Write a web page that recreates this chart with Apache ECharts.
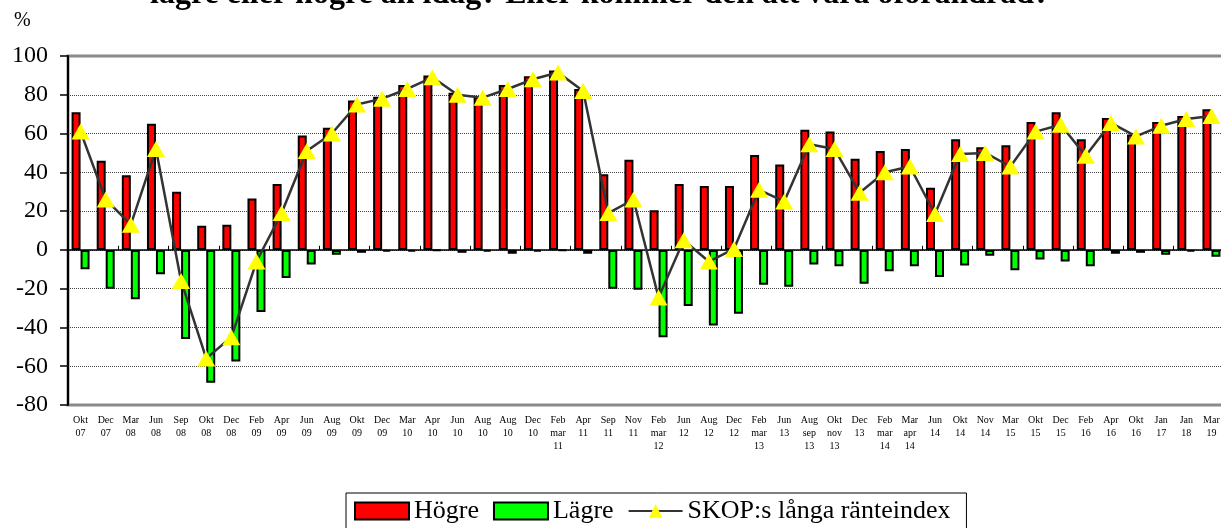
<!DOCTYPE html>
<html>
<head>
<meta charset="utf-8">
<script src="https://cdn.jsdelivr.net/npm/echarts@6/dist/echarts.min.js"></script>
<style>
html, body { margin: 0; padding: 0; background: #fff; }
#chart { width: 1221px; height: 528px; }
</style>
</head>
<body>
<div id="chart"></div>
<script>
// SKOP: förväntningar på långa räntor
var categories = ['Okt\n07', 'Dec\n07', 'Mar\n08', 'Jun\n08', 'Sep\n08', 'Okt\n08', 'Dec\n08', 'Feb\n09', 'Apr\n09', 'Jun\n09',
    'Aug\n09', 'Okt\n09', 'Dec\n09', 'Mar\n10', 'Apr\n10', 'Jun\n10', 'Aug\n10', 'Aug\n10', 'Dec\n10', 'Feb\nmar\n11',
    'Apr\n11', 'Sep\n11', 'Nov\n11', 'Feb\nmar\n12', 'Jun\n12', 'Aug\n12', 'Dec\n12', 'Feb\nmar\n13', 'Jun\n13', 'Aug\nsep\n13',
    'Okt\nnov\n13', 'Dec\n13', 'Feb\nmar\n14', 'Mar\napr\n14', 'Jun\n14', 'Okt\n14', 'Nov\n14', 'Mar\n15', 'Okt\n15', 'Dec\n15',
    'Feb\n16', 'Apr\n16', 'Okt\n16', 'Jan\n17', 'Jan\n18', 'Mar\n19'];

var hogre = [71, 46, 38.5, 65, 30, 12.5, 13, 26.5, 34, 59, 63, 77, 79, 85,
    90, 81, 79, 85, 89.5, 92.5, 83,
    39, 46.5, 20.5, 34, 33, 33, 49, 44, 62,
    61, 47, 51, 52, 32, 57, 53, 54, 66, 71, 57, 68, 59.5, 66, 69, 72.5];

var lagre = [-10, -20, -25.5, -12.5, -46, -68.5, -57.5, -32, -14.5, -7.5, -2.5, -1.5, -1, -1,
    -0.5, -1.5, -1, -2, -1, -0.5, -2,
    -20, -20.5, -45, -29, -39, -33, -18, -19, -7.5,
    -8.5, -17.5, -11, -8.5, -14, -8, -3, -10.5, -5, -6, -8.5, -2, -1.5, -2.5, -1, -3.5];

var skop = [61, 26, 13, 52, -16, -56, -45, -6, 19, 51, 60, 75, 78, 83,
    89, 80, 78.5, 83, 88, 91.5, 82,
    19, 26, -24.5, 5, -6, 0.5, 31, 25, 54.5,
    52, 29.5, 40, 43, 18.5, 49.5, 50, 43, 61, 64.5, 48.5, 65.5, 58.5, 64, 67.5, 69];

var seriesNames = ['Högre', 'Lägre', 'SKOP:s långa ränteindex'];
var yMin = -80, yMax = 100, yStep = 20;
var titleText = 'lägre eller högre än idag? Eller kommer den att vara oförändrad?';

var font = '"Liberation Serif", "Times New Roman", serif';
var myChart = echarts.init(document.getElementById('chart'));

// axel vid noll, ritas två gånger för streck åt båda hållen
function zeroAxis(pos, lineShow, yIdx) {
    return {
        type: 'category',
        data: categories,
        position: pos,
        axisLine: { show: lineShow, onZero: true, onZeroAxisIndex: yIdx, lineStyle: { color: '#000', width: 1.5 } },
        axisTick: { show: true, length: 4, lineStyle: { color: '#000', width: 1 } },
        axisLabel: { show: false },
        splitLine: { show: false }
    };
}

var option = {
    animation: false,
    grid: {
        left: 68,
        top: 56,
        width: 1156,
        height: 349,
        show: true,
        borderColor: '#8a8a8a',
        borderWidth: 3,
        outerBoundsMode: 'none',
        containLabel: false
    },
    graphic: [
        {
            type: 'text', x: 600, y: -21, z: 10,
            style: { text: titleText, font: 'bold 32px ' + font, fill: '#000', textAlign: 'center', textVerticalAlign: 'top' }
        },
        {
            type: 'text', x: 14, y: 11, z: 10,
            style: { text: '%', font: '20px ' + font, fill: '#000' }
        }
    ],
    legend: {
        left: 346,
        top: 493,
        data: [
            { name: seriesNames[0], icon: 'rect' },
            { name: seriesNames[1], icon: 'rect' },
            { name: seriesNames[2] }
        ],
        itemWidth: 54,
        itemHeight: 17,
        itemGap: 14,
        borderColor: '#000',
        borderWidth: 1,
        padding: [5, 16, 14, 8],
        textStyle: { fontSize: 26, fontFamily: font, color: '#000' }
    },
    xAxis: [
        {
            type: 'category',
            data: categories,
            position: 'bottom',
            axisLine: { show: false, onZero: false },
            axisTick: { show: false },
            axisLabel: { interval: 0, fontSize: 10, lineHeight: 13, fontFamily: font, color: '#000', margin: 9 },
            splitLine: { show: false }
        },
        zeroAxis('top', true, 0),
        zeroAxis('top', false, 1)
    ],
    yAxis: [
        {
            type: 'value',
            min: yMin,
            max: yMax,
            interval: yStep,
            axisLine: { show: true, lineStyle: { color: '#000', width: 2 } },
            axisTick: { show: true, length: 8, lineStyle: { color: '#000', width: 1.5 } },
            axisLabel: { fontSize: 24, fontFamily: font, color: '#000', margin: 20 },
            splitLine: {
                show: true,
                showMinLine: false,
                showMaxLine: false,
                lineStyle: { color: '#444', width: 1, type: [1, 1] }
            }
        },
        {
            type: 'value',
            min: yMin,
            max: yMax,
            interval: yStep,
            show: false,
            splitLine: { show: false }
        }
    ],
    series: [
        {
            name: seriesNames[0],
            type: 'bar',
            data: hogre,
            barWidth: 9,
            barGap: '0%',
            itemStyle: { color: '#ff0000', borderColor: '#000', borderWidth: 2 },
            emphasis: { disabled: true },
            z: 2
        },
        {
            name: seriesNames[1],
            type: 'bar',
            data: lagre,
            barWidth: 9,
            barGap: '0%',
            itemStyle: { color: '#00ff00', borderColor: '#000', borderWidth: 2 },
            emphasis: { disabled: true },
            z: 2
        },
        {
            name: seriesNames[2],
            type: 'line',
            data: skop,
            symbol: 'triangle',
            symbolSize: [18, 16],
            lineStyle: { color: '#333', width: 2.5 },
            itemStyle: { color: '#ffff00', borderWidth: 0 },
            emphasis: { disabled: true },
            z: 5
        }
    ]
};
myChart.setOption(option);
</script>
</body>
</html>
